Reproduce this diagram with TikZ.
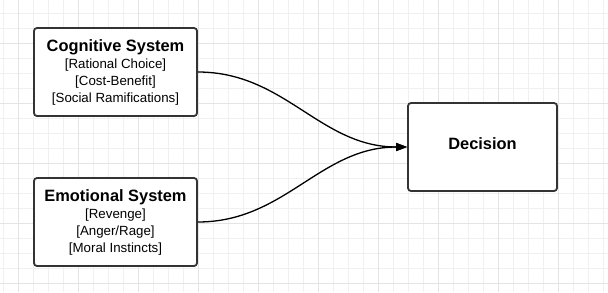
\documentclass[tikz,border=0pt]{standalone}
\usepackage{fontspec}
\setmainfont{Liberation Sans}
\usetikzlibrary{arrows.meta}
\definecolor{gridminor}{HTML}{F0F0F0}
\definecolor{gridmajor}{HTML}{E4E4E4}
\definecolor{boxline}{HTML}{333333}
\begin{document}
\begin{tikzpicture}[x=1pt,y=-1pt,
  sysbox/.style={draw=boxline, line width=1.8pt, fill=white, rounded corners=3pt,
    minimum width=163pt, minimum height=88pt, align=center, inner sep=0pt,
    font=\fontsize{13.3}{16.8}\selectfont},
  decbox/.style={draw=boxline, line width=1.8pt, fill=white, rounded corners=3pt,
    minimum width=149pt, minimum height=88pt, inner sep=0pt,
    text height=12pt, text depth=6.2pt,
    font=\bfseries\fontsize{16.4}{18}\selectfont},
  link/.style={line width=1.3pt, draw=black, -{Triangle[length=11pt,width=8pt]}}]
\useasboundingbox (0,0) rectangle (608,292);
\fill[white] (0,0) rectangle (608,292);
\foreach \x in {3,18,...,603} \draw[gridminor, line width=1pt] (\x,0) -- (\x,292);
\foreach \y in {13,28,...,283} \draw[gridminor, line width=1pt] (0,\y) -- (608,\y);
\foreach \x in {18,78,...,558} \draw[gridmajor, line width=1pt] (\x,0) -- (\x,292);
\foreach \y in {43,103,...,283} \draw[gridmajor, line width=1pt] (0,\y) -- (608,\y);

\node[sysbox] (cog) at (115.5,72) {{\bfseries\fontsize{16.4}{16.8}\selectfont Cognitive System}\\[0.5pt]
  {[Rational Choice]}\\ {[Cost-Benefit]}\\ {[Social Ramifications]}};
\node[sysbox] (emo) at (115.5,222) {{\bfseries\fontsize{16.4}{16.8}\selectfont Emotional System}\\[0.5pt]
  {[Revenge]}\\ {[Anger/Rage]}\\ {[Moral Instincts]}};
\node[decbox] (dec) at (482.5,147) {Decision};

\draw[link] (cog.east) to[out=0,in=180] (dec.west);
\draw[link] (emo.east) to[out=0,in=180] (dec.west);
\end{tikzpicture}
\end{document}
